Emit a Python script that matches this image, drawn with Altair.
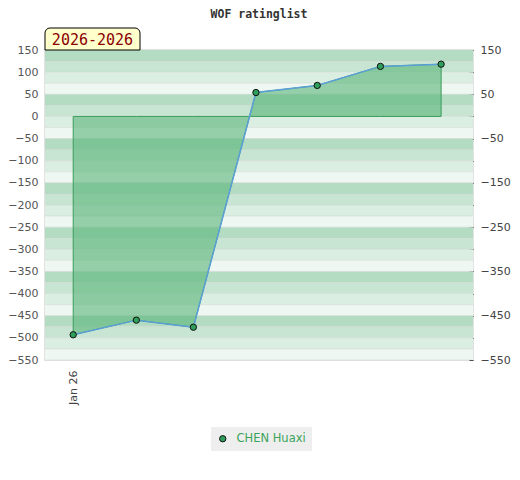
import altair as alt
import pandas as pd

# ---- data ----
x_pos = [0, 1.03, 1.96, 2.98, 3.98, 5.01, 6.0]
ratings = [-493, -460, -476, 54, 70, 113, 118]
player = "CHEN Huaxi"
x_tick_label = "Jan 26"
period_label = "2026-2026"
title_text = "WOF ratinglist"

y_min, y_max = -550, 150
x_dom = [-0.46, 6.52]

W, H = 428, 310

band_colors = ["#b3dcc3", "#c7e5d2", "#daeee2", "#eef7f2"]
band_starts = list(range(y_max - 25, y_min - 1, -25))

df = pd.DataFrame({"x": x_pos, "rating": ratings, "player": [player] * len(x_pos)})
bands = pd.DataFrame({
    "y0": band_starts,
    "y1": [b + 25 for b in band_starts],
    "c": [band_colors[i % 4] for i in range(len(band_starts))],
})

yscale = alt.Scale(domain=[y_min, y_max], nice=False, zero=False)
xscale = alt.Scale(domain=x_dom, nice=False, zero=False)

x_axis = alt.Axis(
    values=[0], labelExpr=f"'{x_tick_label}'", labelAngle=-90, ticks=False,
    domain=False, grid=False, labelPadding=10, labelColor="#444444",
    labelFontSize=11, labelFont="DejaVu Sans", title=None)

band_layer = alt.Chart(bands).mark_rect().encode(
    x=alt.value(0), x2=alt.value(W),
    y=alt.Y("y0:Q", scale=yscale, axis=None),
    y2="y1:Q",
    color=alt.Color("c:N", scale=None),
)

grid_layer = alt.Chart(bands).mark_rule(color="#d4d4d4", opacity=0.5).encode(
    x=alt.value(0), x2=alt.value(W),
    y=alt.Y("y0:Q", scale=yscale, axis=None),
)

left_axis = alt.Axis(
    values=list(range(y_min, y_max + 1, 50)), ticks=False, tickSize=0, domain=False,
    grid=False, labelPadding=7, labelColor="#555555", labelFontSize=11,
    labelFont="DejaVu Sans", title=None,
)
right_axis = alt.Axis(
    orient="right", values=list(range(y_min, y_max + 1, 50)), ticks=True, tickSize=4,
    tickColor="#222222", domain=False, grid=False, offset=-4, labelPadding=7,
    labelColor="#444444", labelFontSize=11, labelFont="DejaVu Sans", title=None,
    labelExpr="datum.value % 100 == 0 ? '' : datum.label",
)

area_layer = alt.Chart(df).mark_area(
    fill="#58b478", fillOpacity=0.6, stroke="#3a9d5a", strokeWidth=1, strokeOpacity=1
).encode(
    x=alt.X("x:Q", scale=xscale, axis=x_axis),
    y=alt.Y("rating:Q", scale=yscale, axis=left_axis),
    y2=alt.datum(0),
)

line_layer = alt.Chart(df).mark_line(color="#5b9fd8", strokeWidth=1.5).encode(
    x=alt.X("x:Q", scale=xscale, axis=x_axis),
    y=alt.Y("rating:Q", scale=yscale, axis=right_axis),
)

point_layer = alt.Chart(df).mark_point(
    filled=True, size=40, stroke="#111111", strokeWidth=1, opacity=1
).encode(
    x=alt.X("x:Q", scale=xscale, axis=x_axis),
    y=alt.Y("rating:Q", scale=yscale, axis=None),
    fill=alt.Fill("player:N", scale=alt.Scale(range=["#2e9e5b"]), legend=alt.Legend(
        title=None, orient="none", legendX=166, legendY=377, fillColor="#eeeeee",
        padding=6, symbolStrokeColor="#111111", symbolStrokeWidth=1, symbolSize=40,
        labelColor="#3ba35a", labelFontSize=11.5, labelFont="DejaVu Sans",
        labelOffset=8, symbolType="circle")),
)

box_layer = alt.Chart(pd.DataFrame({"t": [period_label]})).mark_rect(
    fill="#ffffcc", stroke="#000000", strokeWidth=1,
    cornerRadiusTopLeft=5, cornerRadiusTopRight=5, clip=False,
).encode(x=alt.value(0), x2=alt.value(95), y=alt.value(-22), y2=alt.value(0))

box_text = alt.Chart(pd.DataFrame({"t": [period_label]})).mark_text(
    font="DejaVu Sans Mono", fontSize=15, color="#8b0000", align="center",
    baseline="middle",
).encode(x=alt.value(47.5), y=alt.value(-10.5), text="t:N")

chart = alt.layer(
    band_layer, grid_layer, area_layer, line_layer, point_layer, box_layer, box_text
).resolve_axis(y="independent").properties(
    width=W, height=H,
    autosize=alt.AutoSizeParams(type="none"),
    padding={"left": 37, "top": 42, "right": 39, "bottom": 95},
    title=alt.TitleParams(
        title_text, font="DejaVu Sans Mono", fontSize=11.5, fontWeight="bold",
        color="#333333", anchor="middle", offset=7,
    ),
).configure_view(stroke="#d9d9d9", strokeWidth=1.5)

chart.save("out.html", embed_options={"renderer": "svg", "actions": False})
